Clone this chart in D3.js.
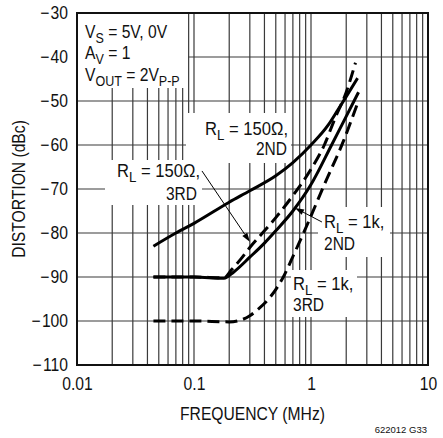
<!DOCTYPE html>
<html>
<head>
<meta charset="utf-8">
<script src="https://cdn.jsdelivr.net/npm/d3@7"></script>
<style>
  body { margin: 0; background: #fff; }
  svg text { font-family: "Liberation Sans", Arial, sans-serif; fill: #111; }
</style>
</head>
<body>
<div id="root"></div>
<script>
// values (frequency in MHz, distortion in dBc)
var f150_2nd = [0.045, 0.07, 0.1, 0.2, 0.3, 0.5, 0.7, 1.0, 1.4, 1.7, 2.0, 2.5];
var db150_2nd = [-83, -80, -77.8, -73, -70.4, -67, -64, -60, -55.5, -52, -49, -44.8];

var f150_3rd = [0.045, 0.1, 0.18, 0.21, 0.25, 0.3, 0.4, 0.5, 0.7, 1.0, 1.3, 1.6, 2.0, 2.4];
var db150_3rd = [-90, -90, -90.2, -88.3, -86, -83.3, -79.5, -76.5, -71.5, -65.5, -60, -54, -48, -41.3];

var f1k_2nd = [0.045, 0.1, 0.18, 0.22, 0.3, 0.4, 0.5, 0.7, 1.0, 1.5, 2.0, 2.55];
var db1k_2nd = [-90, -90, -90.3, -88.8, -85.5, -82.3, -79.5, -75, -69, -60, -53.5, -48];

var f1k_3rd = [0.045, 0.1, 0.2, 0.25, 0.3, 0.35, 0.45, 0.58, 0.71, 0.95, 1.3, 1.9, 2.5];
var db1k_3rd = [-100, -100, -100.2, -99.8, -98.8, -97.4, -94.5, -90, -85, -77.5, -69, -59, -50.5];

var xTicks = [0.01, 0.1, 1, 10];
var xTickLabels = ["0.01", "0.1", "1", "10"];
var yTicks = [-110, -100, -90, -80, -70, -60, -50, -40, -30];

var W = 443, H = 438;
var pL = 77, pR = 428, pT = 13, pB = 365;
var SX = 0.87; // narrow type

var svg = d3.select("#root").append("svg")
    .attr("width", W)
    .attr("height", H);

var x = d3.scaleLog().domain([0.01, 10]).range([pL, pR]);
var y = d3.scaleLinear().domain([-110, -30]).range([pB, pT]);

// grid
var minor = [];
[0.01, 0.1, 1].forEach(function (dec) {
    for (var k = 1; k <= 9; k++) minor.push(dec * k);
});
minor.push(10);

svg.append("g").selectAll("line")
    .data(minor)
    .enter().append("line")
    .attr("x1", function (d) { return x(d); })
    .attr("x2", function (d) { return x(d); })
    .attr("y1", pT)
    .attr("y2", pB)
    .attr("stroke", "#3a3a3a")
    .attr("stroke-width", 1.2);

svg.append("g").selectAll("line")
    .data(yTicks)
    .enter().append("line")
    .attr("x1", pL)
    .attr("x2", pR)
    .attr("y1", function (d) { return y(d); })
    .attr("y2", function (d) { return y(d); })
    .attr("stroke", "#3a3a3a")
    .attr("stroke-width", 1.2);

// white boxes behind the labels
var boxes = [
    [78, 14, 110, 74],
    [186, 113, 105, 50],
    [105, 160, 97, 45],
    [318, 207, 72, 50],
    [291, 270, 66, 47]
];
svg.append("g").selectAll("rect")
    .data(boxes)
    .enter().append("rect")
    .attr("x", function (d) { return d[0]; })
    .attr("y", function (d) { return d[1]; })
    .attr("width", function (d) { return d[2]; })
    .attr("height", function (d) { return d[3]; })
    .attr("fill", "#fff");

// frame
svg.append("rect")
    .attr("x", pL)
    .attr("y", pT)
    .attr("width", pR - pL)
    .attr("height", pB - pT)
    .attr("fill", "none")
    .attr("stroke", "#111")
    .attr("stroke-width", 2);

// axes (labels only)
var yAxis = svg.append("g")
    .attr("transform", "translate(" + pL + ",0)")
    .call(d3.axisLeft(y).tickValues(yTicks).tickSize(0).tickPadding(9)
        .tickFormat(function (d) { return "\u2212\u200a" + Math.abs(d); }));
var xAxis = svg.append("g")
    .attr("transform", "translate(0," + pB + ")")
    .call(d3.axisBottom(x).tickValues(xTicks).tickSize(0).tickPadding(12)
        .tickFormat(function (d, i) { return xTickLabels[i]; }));
[yAxis, xAxis].forEach(function (g) {
    g.select(".domain").remove();
    g.selectAll("text")
        .attr("font-size", 18)
        .attr("fill", "#111")
        .attr("font-family", "Liberation Sans, Arial, sans-serif");
});
yAxis.selectAll("text")
    .attr("x", -9 / SX)
    .attr("transform", "scale(" + SX + ",1)");
xAxis.selectAll("text")
    .attr("transform", "scale(" + SX + ",1)");

// curves
var line = d3.line()
    .x(function (d) { return x(d[0]); })
    .y(function (d) { return y(d[1]); })
    .curve(d3.curveMonotoneX);

var series = [
    { f: f150_2nd, v: db150_2nd, dash: null },
    { f: f150_3rd, v: db150_3rd, dash: "12,6" },
    { f: f1k_2nd, v: db1k_2nd, dash: null },
    { f: f1k_3rd, v: db1k_3rd, dash: "12,6" }
];
series.forEach(function (s) {
    svg.append("path")
        .datum(d3.zip(s.f, s.v))
        .attr("d", line)
        .attr("fill", "none")
        .attr("stroke", "#000")
        .attr("stroke-width", 3)
        .attr("stroke-dasharray", s.dash);
});

// text helper: parts = [[text, isSub], ...]
function label(px, py, parts, anchor, size, sx) {
    size = size || 18;
    sx = sx || SX;
    var t = svg.append("text")
        .attr("transform", "translate(" + px + "," + py + ") scale(" + sx + ",1)")
        .attr("text-anchor", anchor || "start")
        .attr("font-size", size);
    var shifted = false;
    parts.forEach(function (p) {
        var sp = t.append("tspan").text(p[0]);
        if (p[1]) {
            sp.attr("font-size", size * 0.8).attr("dy", shifted ? 0 : 5);
            shifted = true;
        } else if (shifted) {
            sp.attr("dy", -5);
            shifted = false;
        }
    });
    return t;
}

label(85, 38, [["V"], ["S", 1], [" = 5V, 0V"]]);
label(85, 59, [["A"], ["V", 1], [" = 1"]]);
label(85, 81, [["V"], ["OUT", 1], [" = 2V"], ["P-P", 1]]);

var LS = 17.5, LX = 0.95;
label(288, 135, [["R"], ["L", 1], [" = 150Ω,"]], "end", LS, LX);
label(287, 155, [["2ND"]], "end", LS, SX * 1.02);

label(200, 177, [["R"], ["L", 1], [" = 150Ω,"]], "end", LS, LX);
label(197, 200, [["3RD"]], "end", LS, SX * 1.02);

label(324, 228, [["R"], ["L", 1], [" = 1k,"]], "start", LS, LX);
label(324, 250, [["2ND"]], "start", LS, SX * 1.02);

label(293, 290, [["R"], ["L", 1], [" = 1k,"]], "start", LS, LX);
label(293, 311, [["3RD"]], "start", LS, SX * 1.02);

// arrows, from label to curve (frequency, dBc)
var arrows = [
    [[0.117, -65.9], [0.30, -82.0]],
    [[1.24, -77.5], [0.73, -74.3]]
];
arrows.forEach(function (a) {
    var x1 = x(a[0][0]), y1 = y(a[0][1]), x2 = x(a[1][0]), y2 = y(a[1][1]);
    var ang = Math.atan2(y2 - y1, x2 - x1);
    var L = 9, w = 3;
    var bx = x2 - L * Math.cos(ang), by = y2 - L * Math.sin(ang);
    svg.append("line")
        .attr("x1", x1).attr("y1", y1)
        .attr("x2", bx).attr("y2", by)
        .attr("stroke", "#000")
        .attr("stroke-width", 1);
    svg.append("path")
        .attr("d", "M" + x2 + "," + y2 +
            "L" + (bx + w * Math.sin(ang)) + "," + (by - w * Math.cos(ang)) +
            "L" + (bx - w * Math.sin(ang)) + "," + (by + w * Math.cos(ang)) + "Z")
        .attr("fill", "#000");
});

// axis titles
svg.append("text")
    .attr("transform", "translate(25," + ((pT + pB) / 2) + ") rotate(-90) scale(" + SX + ",1)")
    .attr("text-anchor", "middle")
    .attr("font-size", 18)
    .text("DISTORTION (dBc)");

svg.append("text")
    .attr("transform", "translate(" + ((pL + pR) / 2) + ",420) scale(" + SX + ",1)")
    .attr("text-anchor", "middle")
    .attr("font-size", 18)
    .text("FREQUENCY (MHz)");

svg.append("text")
    .attr("x", 427)
    .attr("y", 433)
    .attr("text-anchor", "end")
    .attr("font-size", 9.5)
    .text("622012 G33");
</script>
</body>
</html>
